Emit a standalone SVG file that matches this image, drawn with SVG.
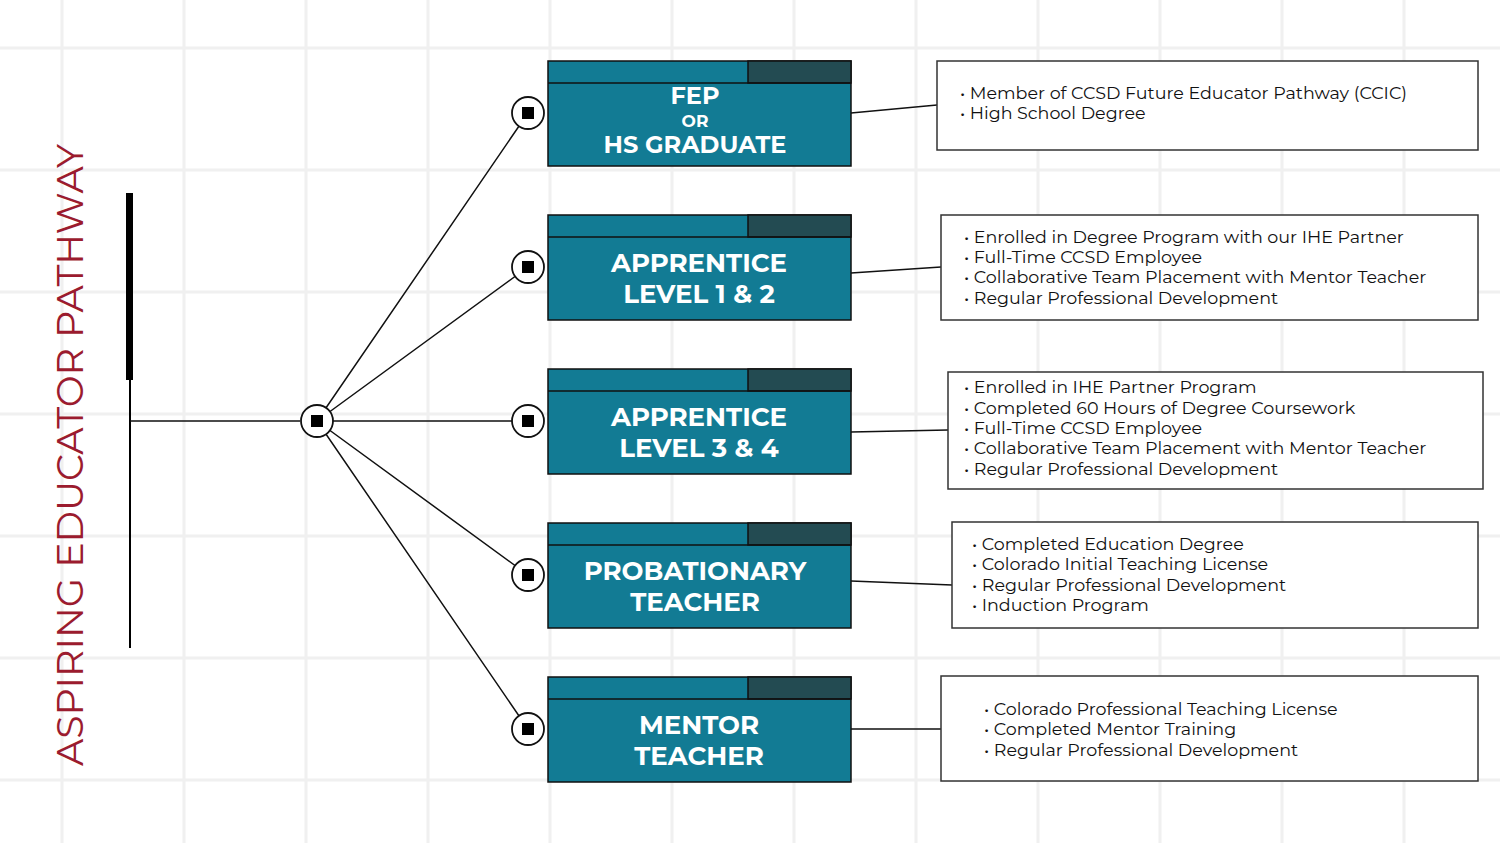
<svg xmlns="http://www.w3.org/2000/svg" width="1500" height="843" viewBox="0 0 1500 843">
<style>
.grid{stroke:#f0f0f0;stroke-width:3}
.box{fill:#127b94;stroke:#111;stroke-width:1.5}
.hd{fill:#234b52;stroke:#111;stroke-width:1.5}
.t{font-family:Montserrat,"Open Sans","Liberation Sans",sans-serif;font-weight:bold;fill:#fff;text-anchor:middle}
.info{fill:#fff;stroke:#333;stroke-width:1.5}
.li{font-family:Montserrat,"Open Sans","Liberation Sans",sans-serif;font-size:17.5px;fill:#111}
.ln{stroke:#111;stroke-width:1.5;fill:none}
.dot{fill:#fff;stroke:#111;stroke-width:1.8}
</style>
<rect width="1500" height="843" fill="#fff"/>
<g id="grid">
<path class="grid" d="M62 0V843M184 0V843M306 0V843M428 0V843M550 0V843M672 0V843M794 0V843M916 0V843M1038 0V843M1160 0V843M1282 0V843M1404 0V843M0 48H1500M0 170H1500M0 292H1500M0 414H1500M0 536H1500M0 658H1500M0 780H1500"/>
</g>
<g id="title">
<text transform="translate(83,455) rotate(-90)" text-anchor="middle" font-family="Montserrat,'Open Sans','Liberation Sans',sans-serif" font-size="38" fill="#9b1b2e">ASPIRING EDUCATOR PATHWAY</text>
<rect x="126" y="193" width="7" height="187" fill="#000"/>
<line x1="130" y1="380" x2="130" y2="648" stroke="#000" stroke-width="2"/>
</g>
<g id="connectors">
<path class="ln" d="M130 421H300M317 421L528 113M317 421L528 267M317 421L528 421M317 421L528 575M317 421L528 729"/>
<path class="ln" d="M851 113L937 105M851 273L941 267M851 432L948 430M851 581L952 585M851 729L941 729"/>
</g>
<g id="hub"><circle class="dot" cx="317" cy="421" r="16"/><rect x="311" y="415" width="12" height="12"/></g>
<g id="n1"><circle class="dot" cx="528" cy="113" r="16"/><rect x="522" y="107" width="12" height="12"/>
<rect class="box" x="548" y="61" width="303" height="105"/><rect class="hd" x="748" y="61" width="103" height="22"/><line x1="548" y1="83" x2="851" y2="83" stroke="#111" stroke-width="1.5"/>
<text class="t" x="695" y="104" font-size="24">FEP</text><text class="t" x="695" y="127" font-size="17">OR</text><text class="t" x="695" y="153" font-size="24">HS GRADUATE</text></g>
<g id="n2"><circle class="dot" cx="528" cy="267" r="16"/><rect x="522" y="261" width="12" height="12"/>
<rect class="box" x="548" y="215" width="303" height="105"/><rect class="hd" x="748" y="215" width="103" height="22"/><line x1="548" y1="237" x2="851" y2="237" stroke="#111" stroke-width="1.5"/>
<text class="t" x="699" y="272" font-size="26">APPRENTICE</text><text class="t" x="699" y="303" font-size="26">LEVEL 1 &amp; 2</text></g>
<g id="n3"><circle class="dot" cx="528" cy="421" r="16"/><rect x="522" y="415" width="12" height="12"/>
<rect class="box" x="548" y="369" width="303" height="105"/><rect class="hd" x="748" y="369" width="103" height="22"/><line x1="548" y1="391" x2="851" y2="391" stroke="#111" stroke-width="1.5"/>
<text class="t" x="699" y="426" font-size="26">APPRENTICE</text><text class="t" x="699" y="457" font-size="26">LEVEL 3 &amp; 4</text></g>
<g id="n4"><circle class="dot" cx="528" cy="575" r="16"/><rect x="522" y="569" width="12" height="12"/>
<rect class="box" x="548" y="523" width="303" height="105"/><rect class="hd" x="748" y="523" width="103" height="22"/><line x1="548" y1="545" x2="851" y2="545" stroke="#111" stroke-width="1.5"/>
<text class="t" x="695" y="580" font-size="26">PROBATIONARY</text><text class="t" x="695" y="611" font-size="26">TEACHER</text></g>
<g id="n5"><circle class="dot" cx="528" cy="729" r="16"/><rect x="522" y="723" width="12" height="12"/>
<rect class="box" x="548" y="677" width="303" height="105"/><rect class="hd" x="748" y="677" width="103" height="22"/><line x1="548" y1="699" x2="851" y2="699" stroke="#111" stroke-width="1.5"/>
<text class="t" x="699" y="734" font-size="26">MENTOR</text><text class="t" x="699" y="765" font-size="26">TEACHER</text></g>
<g id="i1"><rect class="info" x="937" y="61" width="541" height="89"/>
<text class="li" x="960" y="99">•  Member of CCSD Future Educator Pathway (CCIC)</text><text class="li" x="960" y="119">•  High School Degree</text></g>
<g id="i2"><rect class="info" x="941" y="215" width="537" height="105"/>
<text class="li" x="964" y="243">•  Enrolled in Degree Program with our IHE Partner</text><text class="li" x="964" y="263">•  Full-Time CCSD Employee</text><text class="li" x="964" y="283">•  Collaborative Team Placement with Mentor Teacher</text><text class="li" x="964" y="304">•  Regular Professional Development</text></g>
<g id="i3"><rect class="info" x="948" y="372" width="535" height="117"/>
<text class="li" x="964" y="393">•  Enrolled in IHE Partner Program</text><text class="li" x="964" y="414">•  Completed 60 Hours of Degree Coursework</text><text class="li" x="964" y="434">•  Full-Time CCSD Employee</text><text class="li" x="964" y="454">•  Collaborative Team Placement with Mentor Teacher</text><text class="li" x="964" y="475">•  Regular Professional Development</text></g>
<g id="i4"><rect class="info" x="952" y="522" width="526" height="106"/>
<text class="li" x="972" y="550">•  Completed Education Degree</text><text class="li" x="972" y="570">•  Colorado Initial Teaching License</text><text class="li" x="972" y="591">•  Regular Professional Development</text><text class="li" x="972" y="611">•  Induction Program</text></g>
<g id="i5"><rect class="info" x="941" y="676" width="537" height="105"/>
<text class="li" x="984" y="715">•  Colorado Professional Teaching License</text><text class="li" x="984" y="735">•  Completed Mentor Training</text><text class="li" x="984" y="756">•  Regular Professional Development</text></g>
</svg>
